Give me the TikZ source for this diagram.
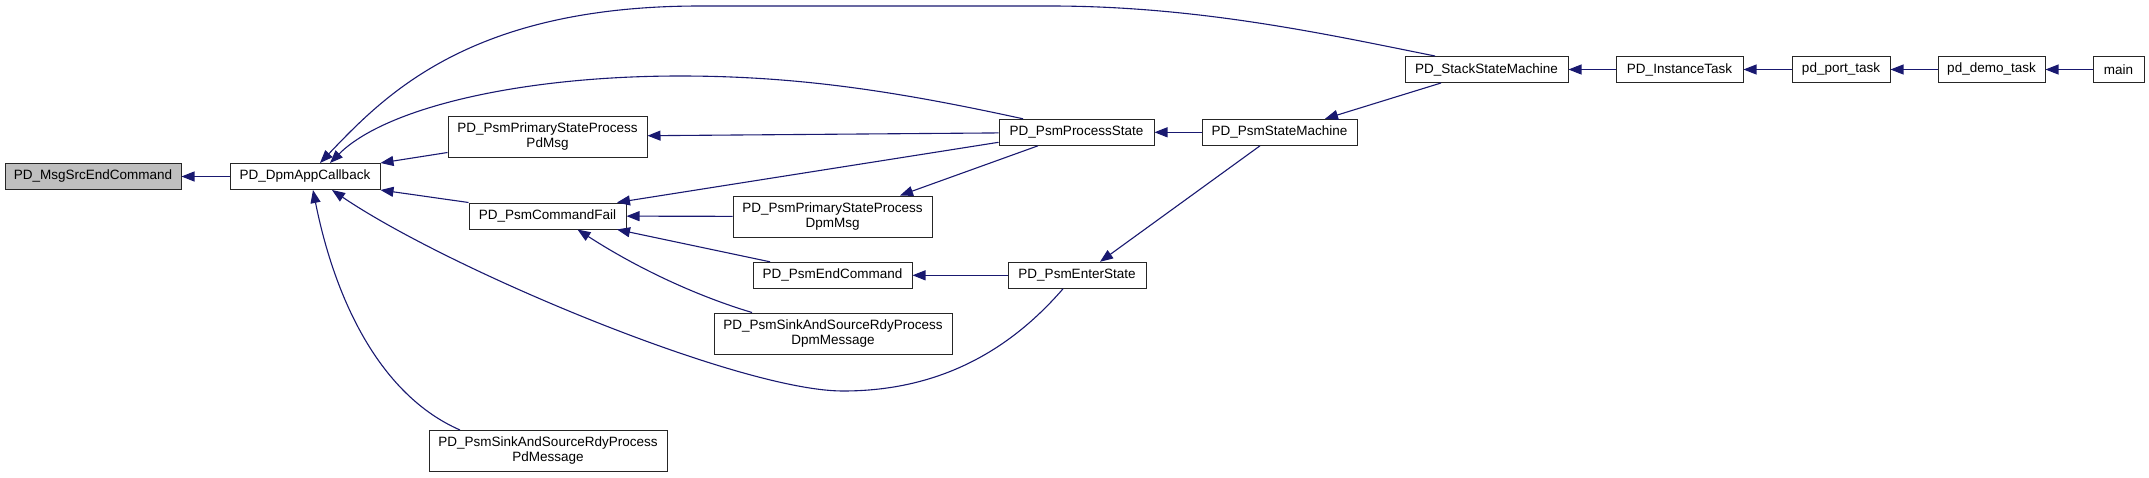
\documentclass[tikz,border=0pt]{standalone}
\usepackage{fontspec}
\setmainfont{Liberation Sans}
\usetikzlibrary{arrows.meta}

\definecolor{calledge}{HTML}{191970}
\definecolor{focusgray}{HTML}{BFBFBF}

\begin{document}
\begin{tikzpicture}[x=1pt, y=-1pt, font=\fontsize{13.5}{15}\selectfont,
    >={Triangle[length=13pt,width=10pt]},
    fnbox/.style={draw=black!85, line width=1pt, fill=white, inner sep=0pt,
      align=center, minimum height=26pt},
    fnboxtall/.style={fnbox, minimum height=41pt},
    callarrow/.style={<-, draw=calledge, line width=1.1pt}]
    \useasboundingbox (0,0) rectangle (2149,477);
    \node[fnbox, fill=focusgray, minimum width=176pt] (msgsrc) at (93,176.5) {PD\_MsgSrcEndCommand};
    \node[fnbox, minimum width=150pt] (dpmapp) at (305,176.5) {PD\_DpmAppCallback};
    \node[fnboxtall, minimum width=199pt] (pdmsg) at (547.5,136.5) {PD\_PsmPrimaryStateProcess\\PdMsg};
    \node[fnbox, minimum width=157pt] (cmdfail) at (547.5,216) {PD\_PsmCommandFail};
    \node[fnboxtall, minimum width=238pt] (sinkpd) at (548,451) {PD\_PsmSinkAndSourceRdyProcess\\PdMessage};
    \node[fnboxtall, minimum width=199pt] (dpmmsg) at (832.5,216.5) {PD\_PsmPrimaryStateProcess\\DpmMsg};
    \node[fnbox, minimum width=159pt] (endcmd) at (832.5,275.3) {PD\_PsmEndCommand};
    \node[fnboxtall, minimum width=238pt] (sinkdpm) at (833,333.5) {PD\_PsmSinkAndSourceRdyProcess\\DpmMessage};
    \node[fnbox, minimum width=155pt] (procstate) at (1076.5,132.3) {PD\_PsmProcessState};
    \node[fnbox, minimum width=138pt] (enter) at (1077,275.3) {PD\_PsmEnterState};
    \node[fnbox, minimum width=155pt] (psmsm) at (1279.5,132.3) {PD\_PsmStateMachine};
    \node[fnbox, minimum width=163pt] (stacksm) at (1486.5,69.5) {PD\_StackStateMachine};
    \node[fnbox, minimum width=127pt] (instance) at (1679.5,69.5) {PD\_InstanceTask};
    \node[fnbox, minimum width=98pt] (porttask) at (1841,69.5) {pd\_port\_task};
    \node[fnbox, minimum width=107pt] (demotask) at (1991.5,69.5) {pd\_demo\_task};
    \node[fnbox, minimum width=51pt] (mainfn) at (2118.5,69.5) {main};

    \foreach \callee/\caller in {msgsrc/dpmapp, pdmsg/procstate, cmdfail/dpmmsg,
        procstate/psmsm, endcmd/enter, stacksm/instance, instance/porttask,
        porttask/demotask, demotask/mainfn}
      \draw[callarrow] (\callee) -- (\caller);

    \draw[callarrow] (dpmapp.north east) -- ([yshift=5pt]pdmsg.south west);
    \draw[callarrow] (dpmapp.south east) -- (cmdfail.north west);
    \draw[callarrow] ([xshift=25pt]dpmapp.north) .. controls (385,108) and (520,76) .. (680,76)
      .. controls (800,76) and (900,92) .. ([xshift=-53.5pt]procstate.north);
    \draw[callarrow] ([xshift=15pt]dpmapp.north) .. controls (385,95) and (470,6) .. (700,6)
      -- (1050,6) .. controls (1200,6) and (1330,35) .. ([xshift=-51.5pt]stacksm.north);
    \draw[callarrow] ([xshift=27pt]dpmapp.south) .. controls (450,270) and (740,391) .. (843,391)
      .. controls (940,391) and (1010,350) .. ([xshift=-14pt]enter.south);
    \draw[callarrow] ([xshift=8pt]dpmapp.south) .. controls (335,300) and (380,395) .. ([xshift=-88pt]sinkpd.north);
    \draw[callarrow] ([xshift=69.5pt]cmdfail.north) -- ([yshift=-10pt]procstate.west);
    \draw[callarrow] ([xshift=69.5pt]cmdfail.south) -- ([xshift=-62.5pt]endcmd.north);
    \draw[callarrow] ([xshift=30pt]cmdfail.south) .. controls (640,270) and (700,297) .. ([xshift=-81pt]sinkdpm.north);
    \draw[callarrow] ([xshift=67.5pt]dpmmsg.north) -- ([xshift=-38.5pt]procstate.south);
    \draw[callarrow] ([xshift=45.5pt]psmsm.north) -- ([xshift=-45.5pt]stacksm.south);
    \draw[callarrow] ([xshift=23pt]enter.north) -- ([xshift=-19.5pt]psmsm.south);
\end{tikzpicture}
\end{document}
